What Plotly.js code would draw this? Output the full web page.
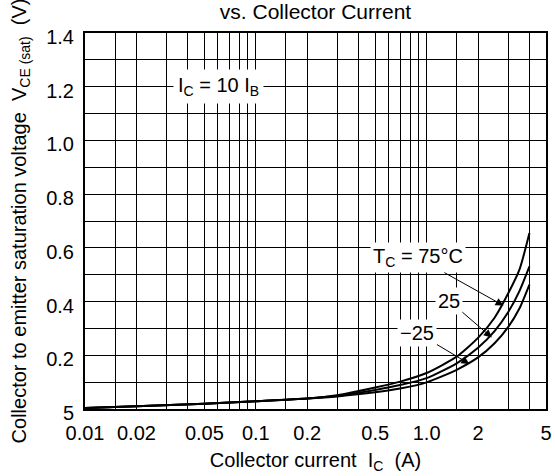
<!DOCTYPE html>
<html>
<head>
<meta charset="utf-8">
<script src="https://cdn.plot.ly/plotly-3.0.1.min.js"></script>
<style>html,body{margin:0;padding:0;background:#fff;}#chart{width:555px;height:476px;}</style>
</head>
<body>
<div id="chart"></div>
<script>
// Collector current (A)
const currentA = [0.01, 0.02, 0.05, 0.1, 0.2, 0.3, 0.5, 0.7, 1.0, 1.5, 2.0, 2.5, 3.0, 3.5, 4.0];
// VCE(sat) (V) for each case temperature
const vce75 = [0.004, 0.010, 0.020, 0.029, 0.039, 0.051, 0.080, 0.102, 0.134, 0.195, 0.265, 0.340, 0.430, 0.520, 0.655];
const vce25 = [0.004, 0.010, 0.020, 0.029, 0.039, 0.049, 0.071, 0.089, 0.115, 0.170, 0.228, 0.290, 0.360, 0.440, 0.531];
const vceM25 = [0.004, 0.010, 0.020, 0.029, 0.039, 0.047, 0.062, 0.076, 0.099, 0.146, 0.192, 0.245, 0.305, 0.375, 0.463];

// Axis ticks
const xTickVals = [0.01, 0.02, 0.05, 0.1, 0.2, 0.5, 1, 2, 5];
const xTickText = ["0.01", "0.02", "0.05", "0.1", "0.2", "0.5", "1.0", "2", "5"];
const xGridVals = [0.015, 0.03, 0.04, 0.06, 0.07, 0.08, 0.09, 0.15, 0.3, 0.4, 0.6, 0.7, 0.8, 0.9, 1.5, 3, 4];
const yTickVals = [0, 0.2, 0.4, 0.6, 0.8, 1.0, 1.2, 1.4];
const yTickText = ["5", "0.2", "0.4", "0.6", "0.8", "1.0", "1.2", "1.4"];
const yGridVals = [0.1, 0.3, 0.5, 0.7, 0.9, 1.1, 1.3];

// Label anchor points (current A, voltage V)
const labelT75 = {x: 2.82, y: 0.385};
const label25 = {x: 2.41, y: 0.266};
const labelM25 = {x: 1.78, y: 0.168};

const FONT = "Liberation Sans, Arial, Helvetica, sans-serif";
const lineStyle = {color: "#000", width: 2, shape: "spline", smoothing: 0.6};

const traces = [
  {x: currentA, y: vce75, mode: "lines", line: lineStyle, name: "75°C", hoverinfo: "skip"},
  {x: currentA, y: vce25, mode: "lines", line: lineStyle, name: "25", hoverinfo: "skip"},
  {x: currentA, y: vceM25, mode: "lines", line: lineStyle, name: "-25", hoverinfo: "skip"},
  // empty trace that carries the secondary grid axes
  {x: [], y: [], xaxis: "x2", yaxis: "y2", mode: "lines", hoverinfo: "skip", showlegend: false}
];

const gridColor = "#000000";
const gridW = 1;
const xRange = [-2, Math.log10(5)];
const yRange = [0, 1.4];

const layout = {
  width: 555, height: 476,
  margin: {l: 85, r: 9, t: 33, b: 67, pad: 0},
  paper_bgcolor: "#fff", plot_bgcolor: "#fff",
  showlegend: false,
  font: {family: FONT, size: 20, color: "#000"},
  title: {
    text: "vs. Collector Current",
    font: {family: FONT, size: 21, color: "#000"},
    xref: "paper", x: 0.5, xanchor: "center",
    yref: "container", y: 0.976, yanchor: "middle"
  },
  xaxis: {
    type: "log", range: xRange,
    tickmode: "array", tickvals: xTickVals, ticktext: xTickText,
    ticks: "", ticklabelstandoff: 5,
    tickfont: {family: FONT, size: 20, color: "#000"},
    showgrid: true, gridcolor: gridColor, gridwidth: gridW,
    showline: true, linecolor: "#000", linewidth: 2, mirror: true,
    zeroline: false,
    title: {text: "Collector current  I<sub>C</sub>  (A)", font: {family: FONT, size: 20, color: "#000"}, standoff: 10}
  },
  yaxis: {
    range: yRange,
    tickmode: "array", tickvals: yTickVals, ticktext: yTickText,
    ticks: "", ticklabelstandoff: 5, ticklabelshift: 4,
    tickfont: {family: FONT, size: 20, color: "#000"},
    showgrid: true, gridcolor: gridColor, gridwidth: gridW,
    showline: true, linecolor: "#000", linewidth: 2, mirror: true,
    zeroline: false,
    title: {text: "Collector to emitter saturation voltage  V<sub>CE <span style='font-size:14px'>(sat)</span></sub>  (V)", font: {family: FONT, size: 20, color: "#000"}, standoff: 14}
  },
  xaxis2: {
    type: "log", range: xRange, overlaying: "x", anchor: "y2",
    tickmode: "array", tickvals: xGridVals,
    showticklabels: false, ticks: "",
    showgrid: true, gridcolor: gridColor, gridwidth: gridW,
    showline: false, zeroline: false
  },
  yaxis2: {
    range: yRange, overlaying: "y", anchor: "x2",
    tickmode: "array", tickvals: yGridVals,
    showticklabels: false, ticks: "",
    showgrid: true, gridcolor: gridColor, gridwidth: gridW,
    showline: false, zeroline: false
  },
  annotations: [
    {
      xref: "x", yref: "y", x: Math.log10(0.0602), y: 1.2,
      text: "I<sub>C</sub> = 10 I<sub>B</sub>", showarrow: false,
      bgcolor: "#fff", borderpad: 4,
      font: {family: FONT, size: 20, color: "#000"}
    },
    {
      xref: "x", yref: "y", x: Math.log10(labelT75.x), y: labelT75.y,
      text: "T<sub>C</sub> = 75°C", showarrow: true,
      ax: -86, ay: -48, arrowhead: 2, arrowsize: 1.6, arrowwidth: 1, arrowcolor: "#000",
      bgcolor: "#fff", borderpad: 2,
      font: {family: FONT, size: 20, color: "#000"}
    },
    {
      xref: "x", yref: "y", x: Math.log10(label25.x), y: label25.y,
      text: "25", showarrow: true,
      ax: -43, ay: -37, arrowhead: 2, arrowsize: 1.6, arrowwidth: 1, arrowcolor: "#000",
      bgcolor: "#fff", borderpad: 2,
      font: {family: FONT, size: 20, color: "#000"}
    },
    {
      xref: "x", yref: "y", x: Math.log10(labelM25.x), y: labelM25.y,
      text: "−25", showarrow: true,
      ax: -52, ay: -31, arrowhead: 2, arrowsize: 1.6, arrowwidth: 1, arrowcolor: "#000",
      bgcolor: "#fff", borderpad: 2,
      font: {family: FONT, size: 20, color: "#000"}
    }
  ]
};

Plotly.newPlot("chart", traces, layout, {staticPlot: true, displayModeBar: false});
</script>
</body>
</html>
